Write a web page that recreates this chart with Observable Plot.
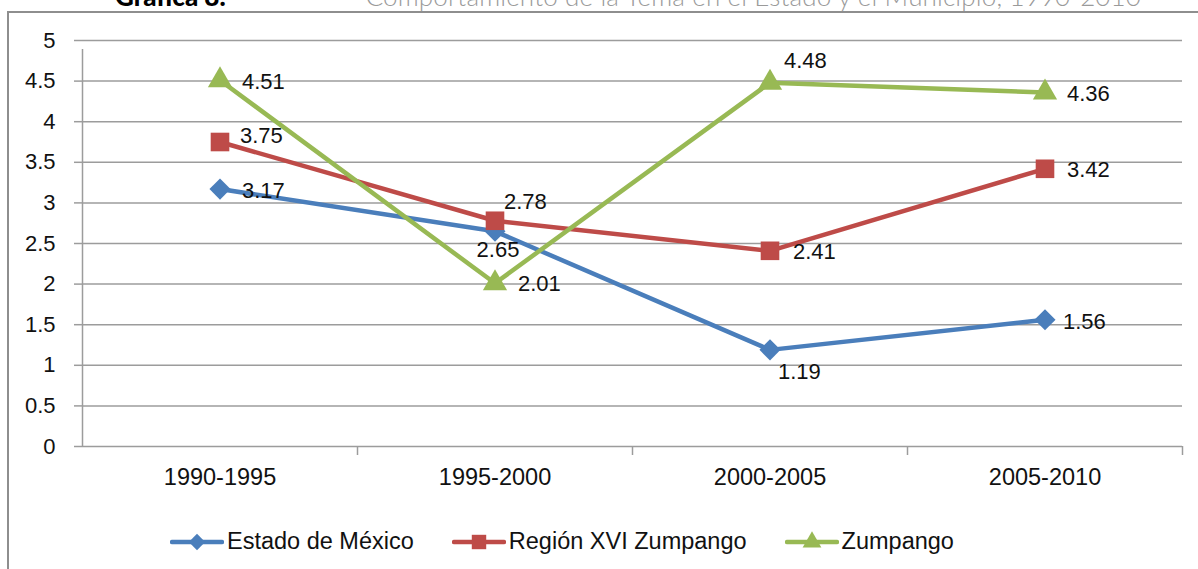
<!DOCTYPE html>
<html>
<head>
<meta charset="utf-8">
<script src="https://cdn.jsdelivr.net/npm/d3@7"></script>
<script src="https://cdn.jsdelivr.net/npm/@observablehq/plot@0.6"></script>
<style>
  body { margin:0; background:#fff; width:1198px; height:569px; overflow:hidden; position:relative; font-family:"Liberation Sans", Arial, sans-serif; }
  #title { position:absolute; top:-17px; left:115px; white-space:nowrap; font-family:Lato, "Open Sans", sans-serif; font-size:26px; line-height:26px; }
  #title b { color:#000; font-weight:900; }
  #title span { color:#9a9a9a; font-weight:300; margin-left:140px; letter-spacing:0.15px; }
  #frame { position:absolute; left:7px; top:11px; width:1300px; height:700px; border-left:2px solid #8e8e8e; border-top:2px solid #8e8e8e; }
  #chart { position:absolute; left:0; top:0; }
  #legend { position:absolute; left:170px; top:528px; display:flex; align-items:center; font-size:23.5px; color:#111; }
  .item { display:flex; align-items:center; margin-right:38px; }
  .item svg { margin-right:3px; }
</style>
</head>
<body>
<div id="title"><b>Gráfica 8.</b><span>Comportamiento de la Tema en el Estado y el Municipio, 1990-2010</span></div>
<div id="frame"></div>
<div id="chart"></div>
<div id="legend"></div>
<script>
const categories = ["1990-1995", "1995-2000", "2000-2005", "2005-2010"];
const seriesNames = ["Estado de México", "Región XVI Zumpango", "Zumpango"];
const estadoValues = [3.17, 2.65, 1.19, 1.56];
const regionValues = [3.75, 2.78, 2.41, 3.42];
const zumpangoValues = [4.51, 2.01, 4.48, 4.36];
const yTicks = [0, 0.5, 1, 1.5, 2, 2.5, 3, 3.5, 4, 4.5, 5];

const colors = ["#4A7EBB", "#BE4B48", "#98B954"];
const symbols = ["diamond2", "square", "triangle"];
const radii = [9.5, 10.5, 9];

const seriesValues = [estadoValues, regionValues, zumpangoValues];
const data = seriesNames.flatMap((s, si) =>
  categories.map((c, ci) => ({series: s, si, ci, cat: c, value: seriesValues[si][ci]})));

// label offsets (pixels) per series / category, styling only
const labelOffsets = [
  [[22, 2], [3, 19, "middle"], [8, 22], [18, 2]],
  [[20, -6], [9, -19], [23, 1], [22, 1]],
  [[22, 2], [23, 1], [14, -22], [22, 1]]
];

const W = 1198, H = 500, ML = 82, MR = 16, MT = 40, MB = 54;
const bw = (W - ML - MR) / categories.length;
const font = "Liberation Sans, Arial, sans-serif";
const gridColor = "#9c9c9c";

const marks = [
  Plot.gridY(yTicks, {stroke: gridColor, strokeOpacity: 1, strokeWidth: 1.5}),
  Plot.ruleX([categories[0]], {x: d => d, y1: 0, y2: 5, dx: -bw / 2, insetBottom: -9, stroke: gridColor, strokeWidth: 1.5}),
  Plot.ruleX(categories, {x: d => d, y1: 0, y2: 0, dx: bw / 2, insetBottom: -9, stroke: gridColor, strokeWidth: 1.5}),
  Plot.axisY({ticks: yTicks, tickSize: 8, tickPadding: 19, stroke: gridColor, strokeWidth: 1.5, fontSize: 22, fill: "#111", label: null, tickFormat: d => String(d)}),
  Plot.axisX({tickSize: 0, tickPadding: 22, fontSize: 23.5, fill: "#111", label: null})
];

seriesNames.forEach((s, si) => {
  const d = data.filter(r => r.si === si);
  marks.push(Plot.line(d, {x: "cat", y: "value", stroke: colors[si], strokeWidth: 4.5, strokeLinejoin: "round"}));
  marks.push(Plot.dot(d, {x: "cat", y: "value", symbol: () => symbols[si], fill: colors[si], stroke: "none", r: radii[si]}));
});

data.forEach(r => {
  const [dx, dy, anchor] = labelOffsets[r.si][r.ci];
  marks.push(Plot.text([r], {x: "cat", y: "value", text: q => q.value.toFixed(2), dx, dy, textAnchor: anchor || "start", fontSize: 22, fill: "#111", fontFamily: font}));
});

const chart = Plot.plot({
  width: W, height: H,
  marginLeft: ML, marginRight: MR, marginTop: MT, marginBottom: MB,
  style: {fontFamily: font, background: "transparent", overflow: "visible"},
  x: {type: "band", domain: categories, padding: 0, axis: null},
  y: {domain: [0, 5], axis: null},
  symbol: {domain: seriesNames, range: symbols},
  marks
});
document.getElementById("chart").appendChild(chart);

// legend
const legend = document.getElementById("legend");
seriesNames.forEach((s, si) => {
  const item = document.createElement("div");
  item.className = "item";
  const sym = {diamond2: d3.symbolDiamond2, square: d3.symbolSquare, triangle: d3.symbolTriangle}[symbols[si]];
  const path = d3.symbol(sym, Math.PI * radii[si] * radii[si] * 0.6)();
  item.innerHTML = `<svg width="54" height="24"><line x1="2" x2="52" y1="12" y2="12" stroke="${colors[si]}" stroke-width="4.5" stroke-linecap="round"/><path transform="translate(27,12)" d="${path}" fill="${colors[si]}"/></svg><span>${s}</span>`;
  legend.appendChild(item);
});
</script>
</body>
</html>
